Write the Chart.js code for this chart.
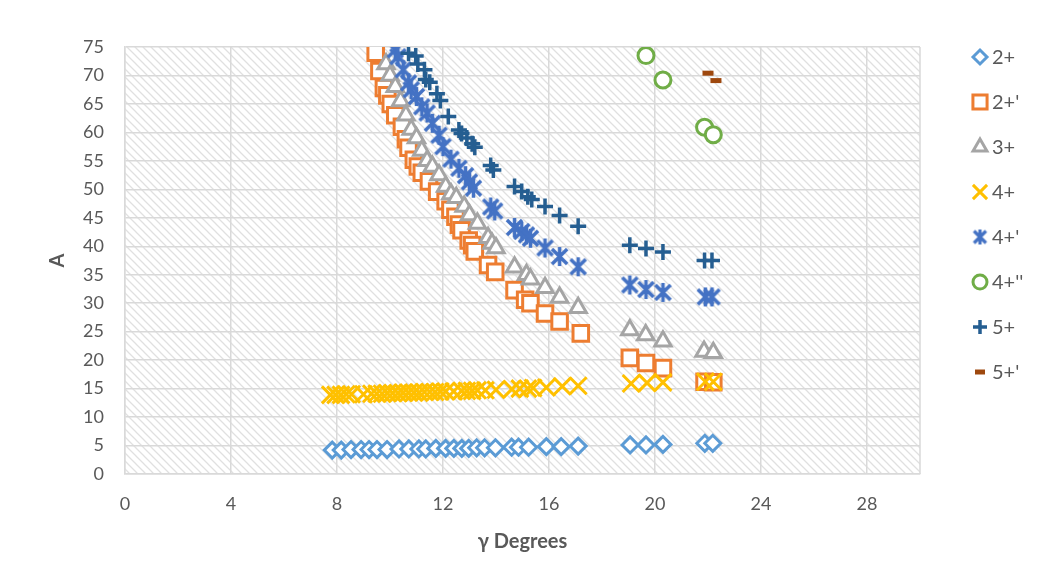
<!DOCTYPE html>
<html>
<head>
<meta charset="utf-8">
<script src="https://cdn.jsdelivr.net/npm/chart.js@4.4.0/dist/chart.umd.min.js"></script>
<style>
  html, body { margin: 0; padding: 0; background: #fff; }
  #wrap { width: 1047px; height: 586px; position: relative; }
</style>
</head>
<body>
<div id="wrap"><canvas id="chart"></canvas></div>
<script>
// Daten (gamma in Grad, A)
const seriesNames = ['2+', "2+'", '3+', '4+', "4+'", "4+''", '5+', "5+'"];
const seriesColors = ['#5B9BD5', '#ED7D31', '#A5A5A5', '#FFC000', '#4472C4', '#70AD47', '#255E91', '#9E480E'];

const s2X = [7.82, 8.16, 8.53, 8.91, 9.21, 9.51, 9.89, 10.34, 10.71, 11.09, 11.35, 11.73, 12.1, 12.41, 12.71, 12.97, 13.27, 13.57, 13.98, 14.59, 14.85, 15.23, 15.9, 16.46, 17.1, 19.06, 19.66, 20.3, 21.88, 22.18];
const s2Y = [4.2, 4.2, 4.3, 4.3, 4.3, 4.3, 4.3, 4.4, 4.4, 4.4, 4.4, 4.5, 4.5, 4.5, 4.5, 4.5, 4.6, 4.6, 4.6, 4.7, 4.7, 4.7, 4.8, 4.8, 4.9, 5.1, 5.1, 5.2, 5.4, 5.4];

const s2pX = [9.46, 9.6, 9.77, 9.9, 10.03, 10.2, 10.45, 10.6, 10.7, 10.9, 11.05, 11.2, 11.47, 11.78, 12.1, 12.28, 12.47, 12.6, 12.7, 12.97, 13.1, 13.2, 13.7, 13.97, 14.7, 15.1, 15.3, 15.85, 16.4, 17.2, 19.05, 19.66, 20.3, 21.87, 22.2];
const s2pY = [74, 70.8, 67.8, 66.5, 65, 63, 61, 58.8, 57.3, 55.2, 54, 52.9, 51.4, 49.6, 47.9, 46.4, 45.2, 43.8, 42.8, 41, 40.2, 39.1, 36.7, 35.5, 32.3, 30.6, 30, 28.2, 26.8, 24.7, 20.4, 19.5, 18.6, 16.2, 16.1];

const s3X = [9.85, 10.0, 10.2, 10.4, 10.6, 10.8, 11.0, 11.2, 11.4, 11.6, 11.85, 12.1, 12.3, 12.5, 12.8, 13.0, 13.3, 13.7, 13.85, 14.0, 14.7, 15.15, 15.3, 15.85, 16.4, 17.1, 19.05, 19.65, 20.3, 21.85, 22.2];
const s3Y = [72, 70, 68, 65.5, 63, 60.5, 59, 56.8, 55, 54, 52.5, 50.5, 49.2, 48.5, 47, 45.5, 44, 41.5, 40.5, 39.7, 36.3, 35, 34.2, 32.7, 31, 29.2, 25.3, 24.4, 23.3, 21.5, 21.3];

const s4X = [7.75, 7.95, 8.15, 8.35, 8.55, 9.0, 9.3, 9.5, 9.7, 9.9, 10.1, 10.3, 10.5, 10.7, 10.9, 11.1, 11.3, 11.5, 11.7, 11.9, 12.1, 12.4, 12.7, 12.9, 13.1, 13.3, 13.6, 14.0, 14.6, 14.9, 15.2, 15.4, 15.9, 16.5, 17.1, 19.1, 19.7, 20.3, 21.9, 22.2];
const s4Y = [13.9, 13.9, 13.9, 14.0, 14.0, 14.0, 14.1, 14.1, 14.1, 14.2, 14.2, 14.2, 14.3, 14.3, 14.3, 14.3, 14.4, 14.4, 14.4, 14.5, 14.5, 14.5, 14.6, 14.6, 14.6, 14.7, 14.7, 14.8, 14.9, 15.0, 15.0, 15.1, 15.2, 15.4, 15.5, 15.9, 16.0, 16.1, 16.2, 16.2];

const s4pX = [10.2, 10.3, 10.5, 10.7, 10.8, 11.0, 11.2, 11.4, 11.6, 11.85, 12.0, 12.3, 12.6, 12.85, 13.0, 13.15, 13.8, 13.95, 14.7, 14.97, 15.15, 15.3, 15.85, 16.4, 17.1, 19.05, 19.66, 20.3, 21.9, 22.15];
const s4pY = [74.5, 73.3, 71, 68.7, 67.5, 66.3, 64.5, 63.4, 61.6, 59.5, 57.5, 55.3, 53.7, 52.4, 51.3, 50.2, 46.9, 46.2, 43.3, 42.6, 42, 41.4, 39.7, 38.2, 36.4, 33.2, 32.4, 31.9, 31.1, 31.1];

const s4ppX = [19.66, 20.3, 21.87, 22.2];
const s4ppY = [73.5, 69.2, 60.9, 59.6];

const s5X = [10.7, 10.97, 11.05, 11.3, 11.35, 11.5, 11.77, 11.9, 12.2, 12.6, 12.7, 12.9, 13.1, 13.2, 13.8, 13.9, 14.7, 14.97, 15.2, 15.35, 15.85, 16.4, 17.1, 19.05, 19.66, 20.3, 21.87, 22.15];
const s5Y = [73.9, 73.4, 72, 71, 69.3, 68.8, 66.8, 65.6, 62.8, 60.4, 59.8, 59, 58, 57.4, 54.2, 53.4, 50.5, 49.6, 48.7, 48.2, 47, 45.4, 43.5, 40.2, 39.6, 39, 37.5, 37.5];

const s5pX = [22.0, 22.3];
const s5pY = [70.4, 69.1];

const xTicks = [0, 4, 8, 12, 16, 20, 24, 28];

function pts(xs, ys) {
    return xs.map((x, i) => ({ x: x, y: ys[i] }));
}

// Schraffur für die Zeichenfläche
function makeHatch() {
    const c = document.createElement('canvas');
    c.width = 8; c.height = 8;
    const g = c.getContext('2d');
    g.fillStyle = '#ffffff';
    g.fillRect(0, 0, 8, 8);
    g.strokeStyle = '#e0e0e0';
    g.lineWidth = 1.3;
    g.beginPath();
    g.moveTo(-1, -1); g.lineTo(9, 9);
    g.moveTo(-1, 7); g.lineTo(1, 9);
    g.moveTo(7, -1); g.lineTo(9, 1);
    g.stroke();
    return c;
}

// Stern (X + senkrechter Strich) wie in Excel
function makeStar(size, lw, color) {
    const c = document.createElement('canvas');
    c.width = size; c.height = size;
    const g = c.getContext('2d');
    const m = size / 2;
    const r = m - 1;
    const d = r * 0.8;
    g.strokeStyle = color;
    g.lineWidth = lw;
    g.beginPath();
    g.moveTo(m - d, m - d); g.lineTo(m + d, m + d);
    g.moveTo(m + d, m - d); g.lineTo(m - d, m + d);
    g.moveTo(m, m - r); g.lineTo(m, m + r);
    g.stroke();
    return c;
}

const starBig = makeStar(21, 3.5, seriesColors[4]);
const starSmall = makeStar(17, 3.2, seriesColors[4]);

const seriesStyles = [
    { pointStyle: 'rectRot', radius: 8, borderWidth: 3, legendRadius: 7 },
    { pointStyle: 'rect', radius: 11, borderWidth: 3, legendRadius: 10 },
    { pointStyle: 'triangle', radius: 9.5, borderWidth: 3, legendRadius: 8 },
    { pointStyle: 'crossRot', radius: 12, borderWidth: 3, legendRadius: 10 },
    { pointStyle: starBig, radius: 10, borderWidth: 0, legendStyle: starSmall },
    { pointStyle: 'circle', radius: 8, borderWidth: 3, legendRadius: 7 },
    { pointStyle: 'cross', radius: 8, borderWidth: 3.5, legendRadius: 7 },
    { pointStyle: 'line', radius: 5.5, borderWidth: 5, legendRadius: 5 }
];

const seriesData = [
    pts(s2X, s2Y), pts(s2pX, s2pY), pts(s3X, s3Y), pts(s4X, s4Y),
    pts(s4pX, s4pY), pts(s4ppX, s4ppY), pts(s5X, s5Y), pts(s5pX, s5pY)
];

const hatch = makeHatch();

const plotBgPlugin = {
    id: 'plotBg',
    beforeDraw(chart) {
        const { ctx, chartArea: a } = chart;
        ctx.save();
        ctx.fillStyle = ctx.createPattern(hatch, 'repeat');
        ctx.fillRect(a.left, a.top, a.right - a.left, a.bottom - a.top);
        ctx.restore();
    },
    afterDatasetsDraw(chart) {
        const { ctx, chartArea: a } = chart;
        ctx.save();
        ctx.strokeStyle = '#d9d9d9';
        ctx.lineWidth = 1.5;
        ctx.beginPath();
        ctx.moveTo(a.right, a.top);
        ctx.lineTo(a.right, a.bottom);
        ctx.stroke();
        ctx.restore();
    }
};

// eigene Legende rechts
const legendPlugin = {
    id: 'sideLegend',
    afterDraw(chart) {
        const ctx = chart.ctx;
        ctx.save();
        seriesNames.forEach((name, i) => {
            const y = 57 + i * 45;
            const st = seriesStyles[i];
            if (st.legendStyle) {
                const img = st.legendStyle;
                ctx.drawImage(img, 980 - img.width / 2, y - img.height / 2);
            } else {
                ctx.fillStyle = '#ffffff';
                ctx.strokeStyle = seriesColors[i];
                ctx.lineWidth = st.borderWidth;
                Chart.helpers.drawPoint(ctx, {
                    pointStyle: st.pointStyle,
                    radius: st.legendRadius,
                    borderWidth: st.borderWidth,
                    rotation: 0
                }, 980, y);
            }
            ctx.fillStyle = '#595959';
            ctx.font = '20px Lato';
            ctx.textAlign = 'left';
            ctx.textBaseline = 'middle';
            ctx.fillText(name, 992, y + 1);
        });
        ctx.restore();
    }
};

const tickFont = { family: 'Lato', size: 18 };
const titleFont = { family: 'Lato', size: 20, weight: 'bold' };

new Chart(document.getElementById('chart'), {
    type: 'scatter',
    data: {
        datasets: seriesNames.map((name, i) => ({
            label: name,
            data: seriesData[i],
            showLine: false,
            pointStyle: seriesStyles[i].pointStyle,
            pointRadius: seriesStyles[i].radius,
            pointHoverRadius: seriesStyles[i].radius,
            pointBorderWidth: seriesStyles[i].borderWidth,
            borderColor: seriesColors[i],
            backgroundColor: '#ffffff',
            order: 7 - i
        }))
    },
    options: {
        responsive: true,
        maintainAspectRatio: false,
        animation: false,
        layout: { padding: { left: 42, top: 47, right: 127, bottom: 28 } },
        plugins: {
            legend: { display: false },
            tooltip: { enabled: false }
        },
        scales: {
            x: {
                type: 'linear',
                min: 0,
                max: 30,
                afterBuildTicks: (axis) => {
                    axis.ticks = xTicks.map(v => ({ value: v }));
                },
                afterFit: (axis) => { axis.height = 84; },
                ticks: { color: '#595959', font: tickFont, padding: 19, maxRotation: 0 },
                grid: { color: '#d9d9d9', lineWidth: 1.5, drawTicks: false },
                border: { color: '#d9d9d9', width: 1.5 },
                title: { display: true, text: 'γ Degrees', color: '#595959', font: titleFont }
            },
            y: {
                min: 0,
                max: 75,
                afterFit: (axis) => { axis.width = 83; },
                ticks: { stepSize: 5, color: '#595959', font: tickFont, padding: 21 },
                grid: { color: '#d9d9d9', lineWidth: 1.5, drawTicks: false },
                border: { color: '#d9d9d9', width: 1.5 },
                title: { display: true, text: 'A', color: '#595959', font: titleFont }
            }
        }
    },
    plugins: [plotBgPlugin, legendPlugin]
});
</script>
</body>
</html>
